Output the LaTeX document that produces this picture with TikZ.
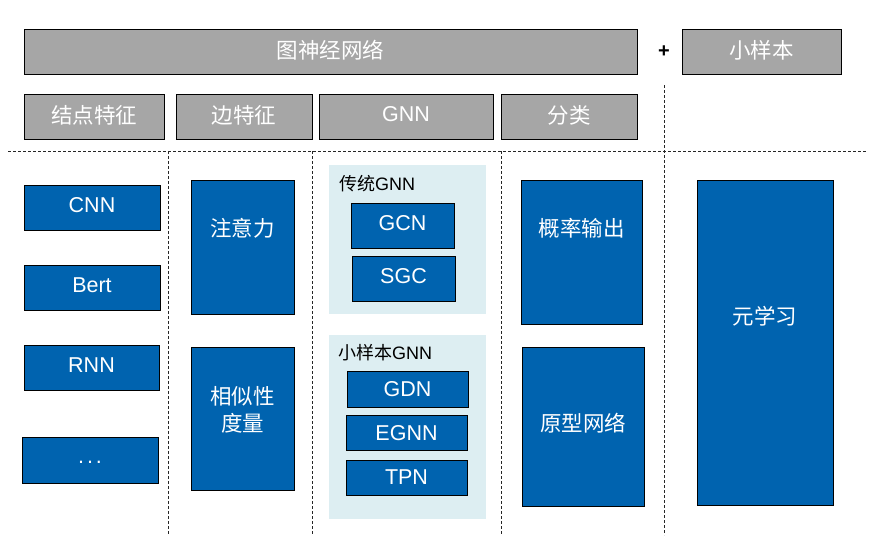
\documentclass[tikz,border=0pt]{standalone}
\usepackage{fontspec}
\setmainfont{Liberation Sans}
\newfontfamily\cjk{Noto Sans CJK SC}
\definecolor{gfill}{RGB}{166,166,166}
\definecolor{bfill}{RGB}{0,99,175}
\definecolor{pfill}{RGB}{221,238,242}
\begin{document}
\begin{tikzpicture}[x=1pt,y=-1pt,
  base/.style={anchor=north west,inner sep=0pt,outer sep=0pt,line width=0.9pt,draw=black,text depth=5pt,font=\fontsize{21.5}{24}\selectfont},
  gbox/.style={base,fill=gfill,text=white},
  bbox/.style={base,fill=bfill,text=white},
  sbox/.style={bbox,text depth=-1pt},
  panel/.style={anchor=north west,inner sep=0pt,fill=pfill,draw=none},
  lbl/.style={text=white,font=\fontsize{21.5}{27}\selectfont,align=center,inner sep=0pt},
  plbl/.style={anchor=west,text=black,font=\fontsize{18}{20}\selectfont,inner sep=0pt},
  sep/.style={line width=0.8pt,dash pattern=on 3pt off 2pt,draw=black!85}]
\useasboundingbox (0,0) rectangle (869,535);
% separators
\coordinate (h1) at (8,151); \coordinate (h2) at (866,151);
\draw[sep] (h1) -- (h2);
\coordinate (v1a) at (168,151); \coordinate (v1b) at (168,535);
\coordinate (v2a) at (312,151); \coordinate (v2b) at (312,535);
\coordinate (v3a) at (501,151); \coordinate (v3b) at (501,535);
\coordinate (v4a) at (664,85);  \coordinate (v4b) at (664,535);
\draw[sep] (v1a) -- (v1b);
\draw[sep] (v2a) -- (v2b);
\draw[sep] (v3a) -- (v3b);
\draw[sep] (v4a) -- (v4b);
% top row
\node[gbox,minimum width=613pt,minimum height=45pt] (top) at (24,29) {{\cjk 图神经网络}};
\node[font=\bfseries\fontsize{20}{20}\selectfont,inner sep=0pt] (plus) at (664,52) {+};
\node[gbox,minimum width=159pt,minimum height=45pt] (xyb) at (682,29) {{\cjk 小样本}};
% second row
\node[gbox,minimum width=140pt,minimum height=45pt] (jd) at (24,94) {{\cjk 结点特征}};
\node[gbox,minimum width=136pt,minimum height=45pt] (bian) at (176,94) {{\cjk 边特征}};
\node[gbox,minimum width=174pt,minimum height=45pt] (gnn) at (319,94) {GNN};
\node[gbox,minimum width=136pt,minimum height=45pt] (fl) at (501,94) {{\cjk 分类}};
% column 1
\node[bbox,minimum width=136pt,minimum height=45pt] (cnn) at (24,185) {CNN};
\node[bbox,minimum width=136pt,minimum height=45pt] (bert) at (24,265) {Bert};
\node[bbox,minimum width=135pt,minimum height=45pt] (rnn) at (24,345) {RNN};
\node[bbox,minimum width=136pt,minimum height=46pt] (dots) at (22,437) {\raisebox{-0.5ex}{.\hspace{3pt}.\hspace{3pt}.}};
% column 2
\node[bbox,minimum width=103pt,minimum height=134pt] (zyl) at (191,180) {};
\node[lbl] (zyllbl) at (242.5,228) {\cjk 注意力};
\node[bbox,minimum width=103pt,minimum height=143pt] (xsx) at (191,347) {};
\node[lbl] (xsxlbl) at (242.5,410) {\cjk 相似性\\\cjk 度量};
% column 3 panels
\node[panel,minimum width=157pt,minimum height=149pt] (p1) at (329,165) {};
\node[plbl] (p1lbl) at (339,184) {{\cjk 传统}GNN};
\node[bbox,minimum width=103pt,minimum height=45pt] (gcn) at (351,203) {GCN};
\node[bbox,minimum width=103pt,minimum height=45pt] (sgc) at (352,256) {SGC};
\node[panel,minimum width=157pt,minimum height=184pt] (p2) at (329,335) {};
\node[plbl] (p2lbl) at (338,353) {{\cjk 小样本}GNN};
\node[sbox,minimum width=121pt,minimum height=36pt] (gdn) at (347,371) {GDN};
\node[sbox,minimum width=121pt,minimum height=35pt] (egnn) at (346,415) {EGNN};
\node[sbox,minimum width=121pt,minimum height=35pt] (tpn) at (346,460) {TPN};
% column 4
\node[bbox,minimum width=121pt,minimum height=144pt] (glsc) at (521,180) {};
\node[lbl] (glsclbl) at (581.5,228) {\cjk 概率输出};
\node[bbox,minimum width=122pt,minimum height=159pt] (yxwl) at (522,347) {};
\node[lbl] (yxwllbl) at (583,423) {\cjk 原型网络};
% column 5
\node[bbox,minimum width=136pt,minimum height=325pt] (yxx) at (697,180) {};
\node[lbl] (yxxlbl) at (765,316) {\cjk 元学习};
\end{tikzpicture}
\end{document}
